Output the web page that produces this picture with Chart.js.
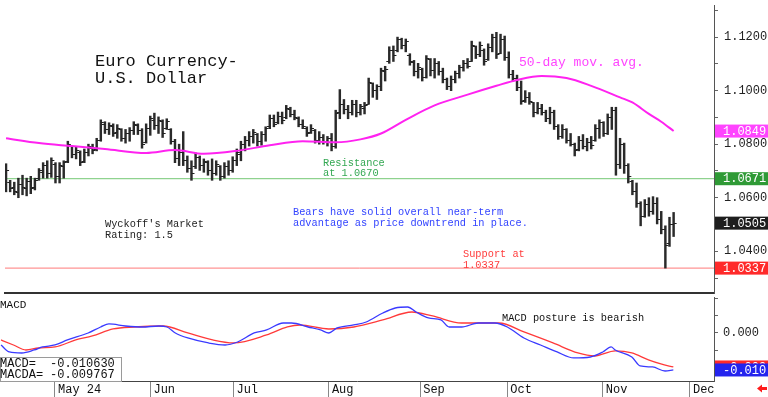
<!DOCTYPE html>
<html lang="en">
<head>
  <meta charset="UTF-8" />
  <title>Euro Currency - U.S. Dollar</title>
  <script src="https://cdn.jsdelivr.net/npm/chart.js"></script>
  <style>
    body { margin: 0; background: #fff; }
    .wrap { position: relative; width: 768px; height: 397px; overflow: hidden; background: #fff; }
    #priceBox { position: absolute; left: 0; top: 0; width: 768px; height: 298px; }
    #macdBox { position: absolute; left: 0; top: 297px; width: 768px; height: 100px; }
  </style>
</head>
<body>
<div class="wrap">
  <div id="priceBox"><canvas id="priceChart"></canvas></div>
  <div id="macdBox"><canvas id="macdChart"></canvas></div>
</div>

<script>
  // daily bars, index 0 = Apr 12 (trading days)
  const opens = [
    1.0651, 1.0655, 1.0640, 1.0620, 1.0650, 1.0635, 1.0660, 1.0640, 1.0670, 1.0695,
    1.0720, 1.0690, 1.0725, 1.0680, 1.0715, 1.0735, 1.0790, 1.0760, 1.0770, 1.0735,
    1.0770, 1.0785, 1.0780, 1.0815, 1.0875, 1.0855, 1.0865, 1.0845, 1.0855, 1.0820,
    1.0840, 1.0850, 1.0870, 1.0850, 1.0805, 1.0860, 1.0890, 1.0870, 1.0885, 1.0860,
    1.0855, 1.0810, 1.0745, 1.0770, 1.0740, 1.0710, 1.0715, 1.0750, 1.0720, 1.0730,
    1.0700, 1.0690, 1.0715, 1.0680, 1.0715, 1.0700, 1.0740, 1.0760, 1.0800, 1.0815,
    1.0830, 1.0835, 1.0810, 1.0835, 1.0865, 1.0895, 1.0880, 1.0905, 1.0900, 1.0930,
    1.0910, 1.0895, 1.0875, 1.0860, 1.0845, 1.0850, 1.0815, 1.0825, 1.0810, 1.0820,
    1.0790, 1.0920, 1.0950, 1.0930, 1.0920, 1.0950, 1.0920, 1.0935, 1.0950, 1.1025,
    1.1000, 1.1015, 1.1070, 1.1110, 1.1150, 1.1150, 1.1190, 1.1170, 1.1130, 1.1105,
    1.1070, 1.1080, 1.1050, 1.1115, 1.1075, 1.1100, 1.1070, 1.1040, 1.1015, 1.1040,
    1.1065, 1.1085, 1.1100, 1.1110, 1.1165, 1.1135, 1.1150, 1.1115, 1.1160, 1.1200,
    1.1140, 1.1190, 1.1125, 1.1060, 1.1045, 1.1010, 1.0965, 1.0975, 1.0955, 1.0920,
    1.0935, 1.0920, 1.0895, 1.0920, 1.0865, 1.0830, 1.0855, 1.0815, 1.0800, 1.0780,
    1.0815, 1.0790, 1.0805, 1.0815, 1.0860, 1.0880, 1.0840, 1.0900, 1.0925, 1.0725,
    1.0800, 1.0720, 1.0660, 1.0625, 1.0580, 1.0530, 1.0575, 1.0550, 1.0580, 1.0520,
    1.0480, 1.0430, 1.0500
  ];
  const highs = [
    1.0727, 1.0665, 1.0658, 1.0673, 1.0684, 1.0673, 1.0680, 1.0673, 1.0709, 1.0731,
    1.0738, 1.0749, 1.0731, 1.0731, 1.0738, 1.0811, 1.0793, 1.0789, 1.0775, 1.0782,
    1.0800, 1.0800, 1.0822, 1.0891, 1.0884, 1.0880, 1.0876, 1.0873, 1.0858, 1.0855,
    1.0862, 1.0884, 1.0876, 1.0858, 1.0876, 1.0905, 1.0916, 1.0902, 1.0891, 1.0895,
    1.0858, 1.0818, 1.0800, 1.0847, 1.0756, 1.0738, 1.0767, 1.0756, 1.0745, 1.0738,
    1.0745, 1.0738, 1.0720, 1.0731, 1.0738, 1.0753, 1.0782, 1.0811, 1.0829, 1.0847,
    1.0855, 1.0840, 1.0847, 1.0865, 1.0909, 1.0909, 1.0920, 1.0920, 1.0945, 1.0938,
    1.0927, 1.0902, 1.0891, 1.0865, 1.0873, 1.0855, 1.0847, 1.0836, 1.0829, 1.0840,
    1.0927, 1.1004, 1.0967, 1.0945, 1.0964, 1.0964, 1.0949, 1.0956, 1.1047, 1.1029,
    1.1022, 1.1084, 1.1091, 1.1164, 1.1167, 1.1200, 1.1196, 1.1193, 1.1138, 1.1113,
    1.1102, 1.1084, 1.1131, 1.1120, 1.1120, 1.1109, 1.1084, 1.1047, 1.1055, 1.1073,
    1.1095, 1.1113, 1.1120, 1.1185, 1.1167, 1.1182, 1.1156, 1.1175, 1.1211, 1.1218,
    1.1211, 1.1204, 1.1145, 1.1076, 1.1058, 1.1036, 1.1000, 1.0993, 1.0956, 1.0956,
    1.0949, 1.0927, 1.0938, 1.0927, 1.0873, 1.0873, 1.0858, 1.0840, 1.0804, 1.0829,
    1.0836, 1.0822, 1.0829, 1.0873, 1.0891, 1.0884, 1.0913, 1.0938, 1.0938, 1.0822,
    1.0804, 1.0727, 1.0665, 1.0655, 1.0585, 1.0593, 1.0600, 1.0604, 1.0600, 1.0549,
    1.0495, 1.0527, 1.0545
  ];
  const lows = [
    1.0622, 1.0622, 1.0611, 1.0600, 1.0611, 1.0607, 1.0615, 1.0629, 1.0665, 1.0673,
    1.0673, 1.0676, 1.0655, 1.0655, 1.0673, 1.0731, 1.0749, 1.0745, 1.0720, 1.0731,
    1.0756, 1.0764, 1.0775, 1.0811, 1.0840, 1.0836, 1.0829, 1.0822, 1.0811, 1.0804,
    1.0811, 1.0836, 1.0836, 1.0785, 1.0804, 1.0833, 1.0855, 1.0840, 1.0825, 1.0855,
    1.0800, 1.0731, 1.0720, 1.0720, 1.0695, 1.0665, 1.0709, 1.0702, 1.0695, 1.0684,
    1.0665, 1.0684, 1.0665, 1.0673, 1.0684, 1.0695, 1.0720, 1.0738, 1.0775, 1.0793,
    1.0804, 1.0793, 1.0796, 1.0811, 1.0858, 1.0865, 1.0876, 1.0876, 1.0895, 1.0902,
    1.0891, 1.0865, 1.0858, 1.0829, 1.0840, 1.0804, 1.0800, 1.0800, 1.0793, 1.0775,
    1.0785, 1.0895, 1.0913, 1.0895, 1.0909, 1.0902, 1.0909, 1.0913, 1.0949, 1.0975,
    1.0967, 1.1000, 1.1036, 1.1102, 1.1109, 1.1145, 1.1156, 1.1145, 1.1095, 1.1055,
    1.1047, 1.1036, 1.1047, 1.1055, 1.1047, 1.1058, 1.1029, 1.1004, 1.1000, 1.1029,
    1.1047, 1.1073, 1.1084, 1.1109, 1.1120, 1.1127, 1.1095, 1.1113, 1.1145, 1.1120,
    1.1138, 1.1113, 1.1047, 1.1036, 1.1000, 1.0949, 1.0956, 1.0949, 1.0902, 1.0913,
    1.0909, 1.0884, 1.0876, 1.0855, 1.0818, 1.0822, 1.0804, 1.0793, 1.0756, 1.0775,
    1.0782, 1.0775, 1.0782, 1.0811, 1.0822, 1.0829, 1.0836, 1.0855, 1.0684, 1.0709,
    1.0691, 1.0655, 1.0611, 1.0564, 1.0495, 1.0527, 1.0531, 1.0538, 1.0502, 1.0465,
    1.0337, 1.0418, 1.0455
  ];
  const closes = [
    1.0702, 1.0633, 1.0622, 1.0651, 1.0640, 1.0660, 1.0633, 1.0665, 1.0700, 1.0720,
    1.0690, 1.0740, 1.0680, 1.0720, 1.0730, 1.0800, 1.0760, 1.0775, 1.0730, 1.0770,
    1.0790, 1.0775, 1.0815, 1.0880, 1.0855, 1.0870, 1.0840, 1.0860, 1.0820, 1.0840,
    1.0850, 1.0875, 1.0850, 1.0800, 1.0860, 1.0895, 1.0870, 1.0890, 1.0840, 1.0885,
    1.0810, 1.0745, 1.0770, 1.0740, 1.0710, 1.0690, 1.0750, 1.0720, 1.0735, 1.0700,
    1.0690, 1.0725, 1.0680, 1.0715, 1.0700, 1.0740, 1.0770, 1.0800, 1.0815, 1.0830,
    1.0845, 1.0810, 1.0835, 1.0860, 1.0895, 1.0875, 1.0905, 1.0890, 1.0935, 1.0910,
    1.0900, 1.0875, 1.0865, 1.0840, 1.0860, 1.0815, 1.0825, 1.0810, 1.0820, 1.0790,
    1.0915, 1.0950, 1.0930, 1.0920, 1.0950, 1.0920, 1.0940, 1.0945, 1.1030, 1.1000,
    1.1015, 1.1075, 1.1080, 1.1150, 1.1130, 1.1190, 1.1170, 1.1185, 1.1110, 1.1070,
    1.1085, 1.1050, 1.1120, 1.1075, 1.1100, 1.1070, 1.1040, 1.1015, 1.1040, 1.1065,
    1.1085, 1.1100, 1.1090, 1.1170, 1.1135, 1.1170, 1.1110, 1.1160, 1.1200, 1.1135,
    1.1190, 1.1125, 1.1060, 1.1045, 1.1010, 1.0960, 1.0975, 1.0960, 1.0920, 1.0935,
    1.0920, 1.0895, 1.0920, 1.0865, 1.0830, 1.0855, 1.0815, 1.0800, 1.0775, 1.0815,
    1.0790, 1.0805, 1.0795, 1.0860, 1.0880, 1.0840, 1.0900, 1.0925, 1.0725, 1.0800,
    1.0720, 1.0680, 1.0625, 1.0580, 1.0530, 1.0575, 1.0550, 1.0580, 1.0520, 1.0480,
    1.0420, 1.0500, 1.0505
  ];

  // 50-day moving average, read at some bars
  const maIdx = [0, 8, 16, 24, 34, 41, 48, 56, 64, 72, 80, 86, 91, 97, 104, 112, 119, 124, 130, 136, 142, 149, 152, 156, 159, 162];
  const maVals = [1.0822, 1.0804, 1.0793, 1.0782, 1.0767, 1.0778, 1.0764, 1.0775, 1.0796, 1.0811, 1.0807, 1.0818, 1.0840,
                  1.0891, 1.0945, 1.0985, 1.1018, 1.1040, 1.1055, 1.1047, 1.1018, 1.0975, 1.0956, 1.0913, 1.0884, 1.0849];

  const resistance = 1.0671;
  const support = 1.0337;

  // MACD (blue) and MACDA (red)
  const macdIdx = [0, 2, 5, 8, 10, 13, 16, 21, 24, 26, 30, 34, 38, 40, 42, 45, 50, 54, 57, 61,
                   64, 68, 70, 74, 77, 79, 81, 85, 88, 92, 95, 98, 100, 103, 106, 108, 111, 115, 119, 122,
                   126, 130, 134, 138, 142, 145, 147, 148, 152, 154, 157, 160, 162];
  const macdVals = [-0.00345, -0.00546, -0.00575, -0.00489, -0.00402, -0.00345, -0.00201, 0.0, 0.00172, 0.00259,
                    0.00201, 0.00172, 0.00201, 0.00172, 0.0, -0.00144, -0.00287, -0.00345, -0.00259, 0.0,
                    0.00086, 0.00287, 0.00287, 0.00172, 0.00086, 0.0, 0.00144, 0.0023, 0.00316, 0.00575,
                    0.00718, 0.00747, 0.00603, 0.00431, 0.00374, 0.00172, 0.00172, 0.00287, 0.00287, 0.00172,
                    -0.00144, -0.00345, -0.00546, -0.00718, -0.0069, -0.00546, -0.00402, -0.00489, -0.0069, -0.00948,
                    -0.00977, -0.01092, -0.010630];
  const sigIdx = [0, 3, 6, 9, 13, 18, 22, 27, 32, 39, 45, 51, 56, 64, 69, 72, 79, 85, 92, 99,
                  104, 111, 116, 120, 126, 133, 139, 143, 148, 152, 156, 159, 162];
  const sigVals = [-0.00201, -0.00345, -0.00489, -0.00431, -0.00402, -0.00201, -0.00086, 0.00115, 0.00172, 0.00201,
                   0.0, -0.00201, -0.00287, -0.00057, 0.00172, 0.0023, 0.00115, 0.00172, 0.00374, 0.00603,
                   0.00489, 0.00287, 0.00287, 0.00287, 0.00029, -0.00287, -0.00575, -0.00661, -0.00517, -0.00575,
                   -0.00776, -0.00891, -0.009767];

  // axis labels
  const monthIdx = [13, 36, 56, 79, 101, 122, 145, 166];
  const monthLabels = ['May 24', 'Jun', 'Jul', 'Aug', 'Sep', 'Oct', 'Nov', 'Dec'];
  const priceLabels = [1.04, 1.06, 1.08, 1.10, 1.12];

  const X_MIN = -0.25, X_MAX = 171.8;
  const MONO = '"Liberation Mono", "DejaVu Sans Mono", monospace';
  Chart.defaults.font.family = MONO;

  // little open / close ticks for the bars
  function tickMark(side) {
    const c = document.createElement('canvas');
    c.width = 8; c.height = 1;
    const g = c.getContext('2d');
    g.fillStyle = '#222';
    g.fillRect(side === 'left' ? 1 : 4, 0, 3, 1);
    return c;
  }

  // the box readouts cut the value, they do not round it
  const cut3 = v => (Math.trunc(v * 1000) / 1000).toFixed(3);

  // free text on the chart
  const notesPlugin = {
    id: 'notes',
    afterDraw(chart, args, opts) {
      const ctx = chart.ctx;
      ctx.save();
      ctx.textBaseline = 'alphabetic';
      ctx.textAlign = 'left';
      (opts.items || []).forEach(n => {
        ctx.font = `${n.size}px ${MONO}`;
        ctx.fillStyle = n.color;
        n.lines.forEach((t, k) => ctx.fillText(t, n.x, n.y + k * (n.lh || 0)));
      });
      ctx.restore();
    }
  };

  // coloured value boxes on the right axis
  const boxPlugin = {
    id: 'valueBoxes',
    afterDraw(chart, args, opts) {
      const { ctx, chartArea, scales } = chart;
      const ys = scales.y;
      ctx.save();
      ctx.font = `12px ${MONO}`;
      ctx.textBaseline = 'middle';
      (opts.items || []).forEach(b => {
        const py = ys.getPixelForValue(b.value);
        ctx.fillStyle = b.bg;
        ctx.fillRect(chartArea.right + 1, py - 6.5, chart.width - chartArea.right - 1, 13);
        ctx.fillStyle = '#fff';
        ctx.fillText(b.text, chartArea.right + 9, py + 0.5);
      });
      ctx.restore();
    }
  };

  const fixRightAxis = s => { s.width = 54; s.paddingTop = 0; s.paddingBottom = 0; };

  // ---------- price panel ----------
  const bars = highs.map((h, i) => ({ x: i, y: [lows[i], h] }));
  const openPts = opens.map((v, i) => ({ x: i, y: v }));
  const closePts = closes.map((v, i) => ({ x: i, y: v }));
  const maPts = maIdx.map((x, i) => ({ x: x, y: maVals[i] }));
  const maLast = maVals[maVals.length - 1];
  const closeLast = closes[closes.length - 1];

  new Chart(document.getElementById('priceChart'), {
    type: 'bar',
    data: {
      datasets: [
        { type: 'line', data: maPts, borderColor: '#ff22f0', borderWidth: 2, pointRadius: 0, cubicInterpolationMode: 'monotone' },
        { type: 'line', data: openPts, showLine: false, pointStyle: tickMark('left'), pointRadius: 3 },
        { type: 'line', data: closePts, showLine: false, pointStyle: tickMark('right'), pointRadius: 3 },
        { data: bars, backgroundColor: '#2a2a2a', barThickness: 1.8 },
        { type: 'line', data: [{ x: X_MIN, y: resistance }, { x: X_MAX, y: resistance }], borderColor: '#74c874', borderWidth: 1, pointRadius: 0 },
        { type: 'line', data: [{ x: X_MIN, y: support }, { x: X_MAX, y: support }], borderColor: '#ff7a7a', borderWidth: 1, pointRadius: 0 }
      ]
    },
    options: {
      responsive: true,
      maintainAspectRatio: false,
      animation: false,
      devicePixelRatio: 1,
      layout: { padding: 0 },
      plugins: {
        legend: { display: false },
        tooltip: { enabled: false },
        notes: {
          items: [
            { lines: ['Euro Currency-', 'U.S. Dollar'], x: 95, y: 66, lh: 17, size: 17, color: '#111' },
            { lines: ['50-day mov. avg.'], x: 519, y: 66, size: 13, color: '#ff44ff' },
            { lines: ['Resistance', 'at 1.0670'], x: 323, y: 166, lh: 10, size: 10.3, color: '#34a853' },
            { lines: ["Wyckoff's Market", 'Rating: 1.5'], x: 105, y: 227, lh: 10.5, size: 10.3, color: '#222' },
            { lines: ['Bears have solid overall near-term', 'advantage as price downtrend in place.'], x: 293, y: 215, lh: 10.7, size: 10.3, color: '#3344ff' },
            { lines: ['Support at', '1.0337'], x: 463, y: 257, lh: 10.7, size: 10.3, color: '#ff3b3b' }
          ]
        },
        valueBoxes: {
          items: [
            { value: maLast, text: maLast.toFixed(4), bg: '#ff44ff' },
            { value: resistance, text: resistance.toFixed(4), bg: '#2f9a36' },
            { value: closeLast, text: closeLast.toFixed(4), bg: '#1e1e1e' },
            { value: support, text: support.toFixed(4), bg: '#ff2a2a' }
          ]
        }
      },
      scales: {
        x: {
          type: 'linear', min: X_MIN, max: X_MAX, offset: false,
          ticks: { display: false },
          grid: { drawOnChartArea: false, drawTicks: false, offset: false },
          border: { color: '#333', width: 2 },
          afterFit: s => { s.height = 2; s.paddingLeft = 0; s.paddingRight = 0; }
        },
        y: {
          position: 'right', min: 1.0244, max: 1.1320,
          ticks: {
            stepSize: 0.01, includeBounds: false, padding: 6, color: '#222', font: { size: 12 },
            callback: v => priceLabels.some(p => Math.abs(p - v) < 1e-6) ? v.toFixed(4) : ''
          },
          grid: { drawOnChartArea: false, tickLength: 4, color: '#666' },
          border: { color: '#555' },
          afterFit: fixRightAxis
        }
      }
    },
    plugins: [notesPlugin, boxPlugin]
  });

  // ---------- MACD panel ----------
  const macdPts = macdIdx.map((x, i) => ({ x: x, y: macdVals[i] }));
  const sigPts = sigIdx.map((x, i) => ({ x: x, y: sigVals[i] }));
  const macdLast = macdVals[macdVals.length - 1];
  const sigLast = sigVals[sigVals.length - 1];

  const macdExtras = {
    id: 'macdExtras',
    afterDraw(chart) {
      const ctx = chart.ctx;
      ctx.save();
      // readout box
      ctx.fillStyle = '#fff';
      ctx.fillRect(0, 60, 122, 24);
      ctx.strokeStyle = '#9a9a9a';
      ctx.lineWidth = 1;
      ctx.strokeRect(0.5, 60.5, 121, 24);
      ctx.font = `12px ${MONO}`;
      ctx.fillStyle = '#111';
      ctx.fillText('MACD=', 0, 69.5);
      ctx.fillText(macdLast.toFixed(6), 50, 69.5);
      ctx.fillText('MACDA=', 0, 80.5);
      ctx.fillText(sigLast.toFixed(6), 50, 80.5);
      // red arrow bottom right
      ctx.fillStyle = '#ff1a1a';
      ctx.beginPath();
      ctx.moveTo(757, 91.5);
      ctx.lineTo(762, 87.5);
      ctx.lineTo(762, 90);
      ctx.lineTo(767, 90);
      ctx.lineTo(767, 93);
      ctx.lineTo(762, 93);
      ctx.lineTo(762, 95.5);
      ctx.closePath();
      ctx.fill();
      ctx.restore();
    }
  };

  new Chart(document.getElementById('macdChart'), {
    type: 'line',
    data: {
      datasets: [
        { data: macdPts, borderColor: '#3a3aff', borderWidth: 1.3, pointRadius: 0, cubicInterpolationMode: 'monotone' },
        { data: sigPts, borderColor: '#ff3a3a', borderWidth: 1.3, pointRadius: 0, cubicInterpolationMode: 'monotone' }
      ]
    },
    options: {
      responsive: true,
      maintainAspectRatio: false,
      animation: false,
      devicePixelRatio: 1,
      layout: { padding: 0 },
      plugins: {
        legend: { display: false },
        tooltip: { enabled: false },
        notes: {
          items: [
            { lines: ['MACD'], x: 0, y: 11, size: 11, color: '#111' },
            { lines: ['MACD posture is bearish'], x: 502, y: 24, size: 10.3, color: '#111' }
          ]
        },
        valueBoxes: {
          items: [
            { value: sigLast, text: cut3(sigLast), bg: '#ff2a2a' },
            { value: macdLast, text: cut3(macdLast), bg: '#2424ee' }
          ]
        }
      },
      scales: {
        x: {
          type: 'linear', min: X_MIN, max: X_MAX, offset: false,
          afterBuildTicks: s => { s.ticks = monthIdx.map(v => ({ value: v })); },
          ticks: {
            autoSkip: false, maxRotation: 0, align: 'start', labelOffset: 3, padding: -14,
            color: '#111', font: { size: 12 },
            callback: (v, i) => monthLabels[i]
          },
          grid: { drawOnChartArea: false, drawTicks: true, tickLength: 16, color: '#888', offset: false },
          border: { color: '#444', width: 1 },
          afterFit: s => { s.height = 16; s.paddingLeft = 0; s.paddingRight = 0; }
        },
        y: {
          position: 'right', min: -0.0138, max: 0.01034,
          ticks: {
            stepSize: 0.005, includeBounds: false, padding: 5, color: '#222', font: { size: 12 },
            callback: v => Math.abs(v) < 1e-9 ? '0.000' : ''
          },
          grid: { drawOnChartArea: false, tickLength: 4, color: '#666' },
          border: { color: '#555' },
          afterFit: fixRightAxis
        }
      }
    },
    plugins: [notesPlugin, boxPlugin, macdExtras]
  });
</script>
</body>
</html>
